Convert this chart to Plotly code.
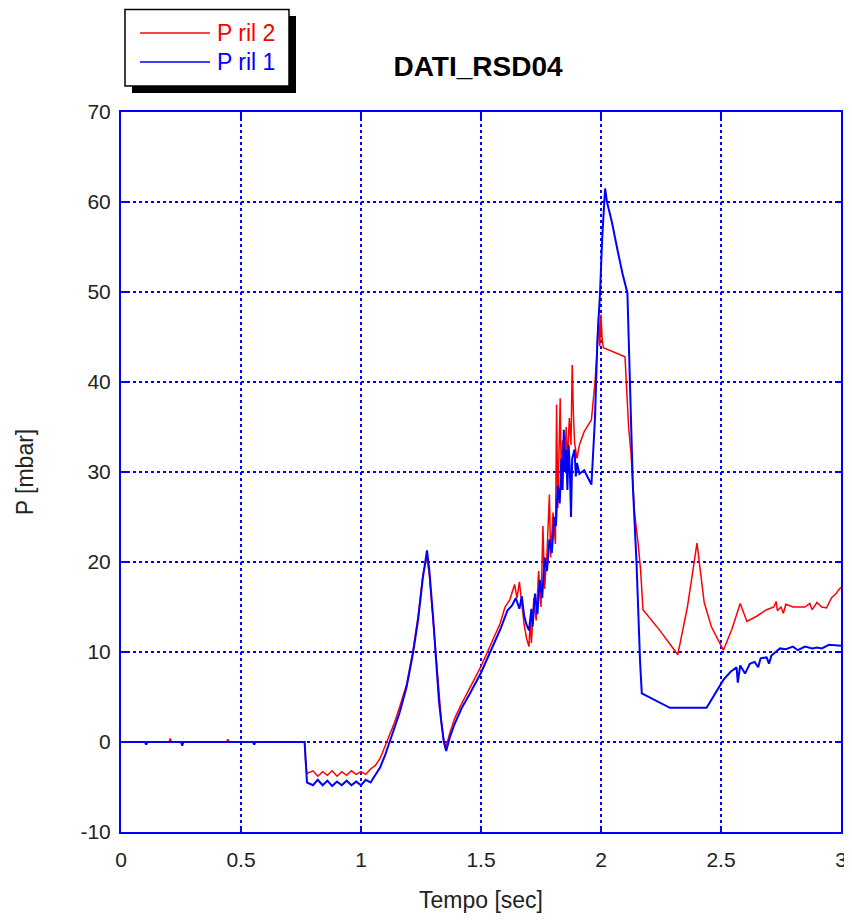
import plotly.graph_objects as go

# ---- data: P ril 1 (blue) ----
t1 = [0.00, 0.10, 0.105, 0.11, 0.25, 0.255, 0.26, 0.55, 0.555, 0.56, 0.765, 0.77, 0.775,
      0.80, 0.82, 0.84, 0.86, 0.88, 0.90, 0.92, 0.94, 0.96, 0.98, 1.00, 1.02, 1.04, 1.06,
      1.08, 1.10, 1.12, 1.14, 1.16, 1.19, 1.217, 1.238, 1.258, 1.275, 1.285, 1.30, 1.315,
      1.325, 1.335, 1.345, 1.355, 1.37, 1.39, 1.42, 1.45, 1.48, 1.50, 1.53, 1.56, 1.58,
      1.61, 1.63, 1.645, 1.66, 1.67, 1.68, 1.69, 1.70, 1.71, 1.715, 1.725, 1.735, 1.745,
      1.755, 1.765, 1.775, 1.785, 1.795, 1.805, 1.812, 1.82, 1.828, 1.835, 1.84, 1.845,
      1.85, 1.855, 1.86, 1.865, 1.87, 1.875, 1.88, 1.89, 1.895, 1.90, 1.91, 1.93, 1.96,
      1.965, 1.975, 1.985, 1.996, 2.005, 2.017, 2.025, 2.046, 2.07, 2.09, 2.11, 2.12,
      2.133, 2.148, 2.155, 2.163, 2.17, 2.287, 2.44, 2.48, 2.51, 2.54, 2.565, 2.57, 2.58,
      2.60, 2.62, 2.64, 2.655, 2.665, 2.69, 2.70, 2.71, 2.746, 2.77, 2.80, 2.82, 2.85,
      2.88, 2.90, 2.92, 2.95, 3.00]
p1 = [0, 0, -0.3, 0, 0, -0.4, 0, 0, -0.3, 0, 0, -2.0, -4.5,
      -4.8, -4.2, -4.8, -4.3, -4.9, -4.4, -4.8, -4.3, -4.8, -4.4, -4.8, -4.2, -4.5, -3.6,
      -2.8, -1.5, 0.0, 1.5, 3.2, 6.1, 9.9, 13.6, 18.3, 21.3, 19.0, 14.0, 8.0,
      4.5, 2.1, 0.0, -1.0, 0.5, 2.0, 3.8, 5.2, 6.8, 7.7, 9.5, 11.3, 12.5,
      14.6, 15.2, 16.0, 14.8, 16.2, 14.0, 13.0, 12.4, 14.8, 12.8, 16.5, 14.2, 18.0,
      16.0, 20.5, 19.0, 22.5, 21.0, 25.0, 24.0, 28.5, 26.5, 31.5, 28.0, 34.7,
      30.0, 32.5, 28.0, 33.0, 30.5, 25.0, 31.5, 32.5, 29.5, 31.0, 29.8, 30.2, 28.6,
      31.0, 36.0, 44.7, 49.9, 56.0, 61.5, 60.0, 57.7, 54.5, 52.0, 49.9, 40.2,
      28.3, 19.9, 14.3, 8.8, 5.4, 3.8, 3.8, 5.5, 6.9, 7.8, 8.3, 6.6, 8.5,
      7.6, 8.7, 8.9, 8.3, 9.3, 9.4, 8.7, 9.6, 10.4, 10.3, 10.6, 10.2, 10.6,
      10.4, 10.5, 10.4, 10.8, 10.7]

# ---- data: P ril 2 (red) ----
t2 = [0.00, 0.20, 0.205, 0.21, 0.44, 0.445, 0.45, 0.765, 0.77, 0.775, 0.80, 0.82, 0.84,
      0.86, 0.88, 0.90, 0.92, 0.94, 0.96, 0.98, 1.00, 1.02, 1.04, 1.06, 1.08, 1.10, 1.12,
      1.14, 1.16, 1.19, 1.217, 1.238, 1.258, 1.275, 1.285, 1.30, 1.315, 1.325, 1.335,
      1.345, 1.355, 1.37, 1.39, 1.42, 1.45, 1.48, 1.50, 1.53, 1.56, 1.58, 1.60, 1.62,
      1.64, 1.65, 1.66, 1.67, 1.68, 1.69, 1.70, 1.705, 1.71, 1.72, 1.73, 1.74, 1.75,
      1.758, 1.765, 1.775, 1.785, 1.79, 1.80, 1.81, 1.815, 1.82, 1.825, 1.83, 1.835,
      1.84, 1.848, 1.855, 1.86, 1.868, 1.875, 1.88, 1.885, 1.89, 1.90, 1.91, 1.93, 1.95,
      1.96, 1.965, 1.975, 1.985, 1.99, 1.995, 2.00, 2.005, 2.01, 2.10, 2.115, 2.125,
      2.14, 2.155, 2.165, 2.175, 2.245, 2.32, 2.36, 2.40, 2.43, 2.46, 2.51, 2.545, 2.58,
      2.608, 2.65, 2.69, 2.72, 2.73, 2.735, 2.75, 2.76, 2.77, 2.80, 2.85, 2.87, 2.88,
      2.90, 2.92, 2.94, 2.96, 2.98, 2.99, 3.00]
p2 = [0, 0, 0.4, 0, 0, 0.3, 0, 0, -2.5, -3.5, -3.2, -3.8, -3.3,
      -3.7, -3.2, -3.8, -3.3, -3.7, -3.2, -3.6, -3.3, -3.6, -3.0, -2.6, -1.8, -0.5, 0.8,
      2.2, 3.8, 6.4, 10.2, 14.0, 18.6, 20.5, 18.5, 13.5, 8.3, 4.8, 2.3,
      0.2, -0.5, 1.0, 2.6, 4.3, 5.8, 7.3, 8.4, 10.2, 12.1, 13.2, 15.0, 15.8,
      17.5, 16.0, 17.8, 15.5, 13.0, 11.5, 10.6, 13.5, 11.0, 16.0, 13.5, 19.0, 15.0,
      24.0, 17.0, 21.0, 27.5, 20.5, 25.5, 22.0, 37.5, 26.0, 31.0, 38.2, 28.0,
      33.5, 30.5, 35.0, 31.0, 36.0, 33.0, 41.9, 36.5, 33.2, 31.5, 33.0, 34.5, 35.4,
      35.8, 37.2, 40.0, 43.9, 47.2, 44.0, 47.5, 44.7, 43.8, 42.8, 35.0, 32.1,
      25.4, 22.0, 19.1, 14.7, 12.4, 9.7, 15.0, 22.1, 15.5, 12.8, 10.2, 12.5, 15.4,
      13.4, 14.0, 14.7, 15.0, 15.6, 14.6, 15.0, 14.3, 15.3, 15.0, 15.0, 15.4, 14.7,
      15.5, 15.0, 14.9, 16.0, 16.5, 16.9, 17.2]

x_ticks = [0, 0.5, 1, 1.5, 2, 2.5, 3]
x_tick_labels = ["0", "0.5", "1", "1.5", "2", "2.5", "3"]
y_ticks = [-10, 0, 10, 20, 30, 40, 50, 60, 70]
y_tick_labels = ["-10", "0", "10", "20", "30", "40", "50", "60", "70"]

# page has an 8px body margin, so figure coordinates = window coordinates - 8
OFF = 8
W, H = 852 - OFF, 921 - 2 * OFF
L, R, T, B = 121 - OFF, 841 - OFF, 112 - OFF, 832 - OFF


def px(xpix):
    return (xpix - OFF - L) / (R - L)


def py(ypix):
    return (B - (ypix - OFF)) / (B - T)


FONT = "Liberation Sans, Arial, sans-serif"
BLUE = "#0000ff"
RED = "#ff0000"
TXT = "#222222"

fig = go.Figure()
fig.add_trace(go.Scatter(x=t2, y=p2, mode="lines", name="P ril 2",
                         line=dict(color=RED, width=1.5), showlegend=False))
fig.add_trace(go.Scatter(x=t1, y=p1, mode="lines", name="P ril 1",
                         line=dict(color=BLUE, width=2), showlegend=False))

axis_common = dict(
    showline=True, linecolor=BLUE, linewidth=2, mirror="ticks",
    ticks="inside", tickcolor=BLUE, ticklen=6, tickwidth=1.5,
    showgrid=True, gridcolor=BLUE, gridwidth=1.5, griddash="dot",
    zeroline=False, tickfont=dict(family=FONT, size=21, color=TXT),
)

fig.update_xaxes(range=[0, 3], tickvals=x_ticks, ticktext=x_tick_labels,
                 ticklabelstandoff=8,
                 title=dict(text="Tempo [sec]", font=dict(family=FONT, size=23, color=TXT),
                            standoff=23),
                 **axis_common)
fig.update_yaxes(range=[-10, 70], tickvals=y_ticks, ticktext=y_tick_labels,
                 ticklabelstandoff=4,
                 title=dict(text="P [mbar]", font=dict(family=FONT, size=23, color=TXT),
                            standoff=40),
                 **axis_common)

# manual legend with drop shadow
shapes = [
    dict(type="rect", xref="paper", yref="paper", x0=px(132), x1=px(296), y0=py(93), y1=py(16),
         fillcolor="black", line=dict(width=0), layer="above"),
    dict(type="rect", xref="paper", yref="paper", x0=px(125), x1=px(289), y0=py(86), y1=py(9.5),
         fillcolor="white", line=dict(color="black", width=1.5), layer="above"),
    dict(type="line", xref="paper", yref="paper", x0=px(140), x1=px(210), y0=py(33), y1=py(33),
         line=dict(color=RED, width=1.5), layer="above"),
    dict(type="line", xref="paper", yref="paper", x0=px(140), x1=px(210), y0=py(62), y1=py(62),
         line=dict(color=BLUE, width=1.5), layer="above"),
]
annotations = [
    dict(text="P ril 2", xref="paper", yref="paper", x=px(215), y=py(33), xanchor="left",
         yanchor="middle", showarrow=False, font=dict(family=FONT, size=23, color=RED)),
    dict(text="P ril 1", xref="paper", yref="paper", x=px(215), y=py(62), xanchor="left",
         yanchor="middle", showarrow=False, font=dict(family=FONT, size=23, color=BLUE)),
]

fig.update_layout(
    width=W, height=H,
    margin=dict(l=L, r=W - R, t=T, b=H - B, autoexpand=False),
    paper_bgcolor="white", plot_bgcolor="white",
    title=dict(text="<b>DATI_RSD04</b>", x=px(478), xref="paper", xanchor="center",
               y=1 - (66 - OFF) / H, yref="container", yanchor="middle",
               font=dict(family=FONT, size=28, color="black")),
    shapes=shapes, annotations=annotations, showlegend=False,
)

fig.write_html("out.html")
